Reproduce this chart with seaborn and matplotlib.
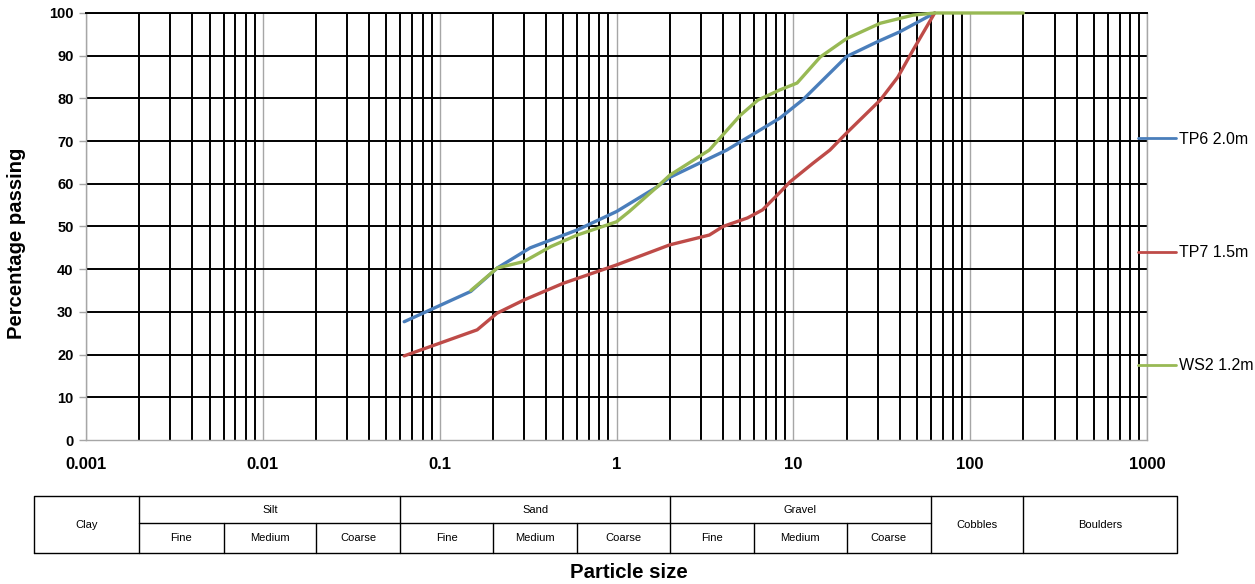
import pandas as pd
import seaborn as sns
import matplotlib.pyplot as plt
from matplotlib.ticker import NullFormatter

# particle size distribution (mm, % passing)
tp6_size = [0.063, 0.15, 0.212, 0.325, 0.6, 1.0, 1.7, 2.0, 4.2, 8.4, 11.4, 20, 30, 40, 63]
tp6_pct = [27.7, 34.8, 40.3, 45.0, 49.2, 53.5, 59.3, 61.5, 67.9, 75.4, 79.8, 89.8, 93.3, 95.6, 100]

tp7_size = [0.063, 0.163, 0.211, 0.3, 0.5, 1.0, 2.0, 3.35, 4.0, 5.5, 6.7, 8.4, 9.6, 12.9, 16.1,
            20, 31, 39, 47.5, 63]
tp7_pct = [19.7, 25.8, 29.7, 32.8, 36.7, 41.0, 45.7, 48.0, 50.0, 52.0, 53.9, 58.0, 60.5, 64.8, 67.9,
           71.9, 79.6, 85.0, 91.3, 100]

ws2_size = [0.15, 0.212, 0.3, 0.425, 0.6, 1.0, 1.18, 1.7, 2.0, 3.35, 5, 6.3, 8.4, 10.5, 14.2,
            20, 31, 47.5, 63, 200]
ws2_pct = [35.0, 40.3, 41.8, 45.3, 48.0, 51.1, 53.5, 59.3, 62.0, 67.9, 76.0, 79.6, 82.0, 83.6, 89.7,
           94.0, 97.6, 99.5, 100, 100]

samples = ['TP6 2.0m', 'TP7 1.5m', 'WS2 1.2m']
colors = ['#4a7ebb', '#be4b48', '#98b954']

x_ticks = [0.001, 0.01, 0.1, 1, 10, 100, 1000]
x_labels = ['0.001', '0.01', '0.1', '1', '10', '100', '1000']
y_ticks = list(range(0, 101, 10))

# soil classification table below the axis
main_edges = [0.000508, 0.002, 0.06, 2, 60, 200, 1479]
main_names = ['Clay', 'Silt', 'Sand', 'Gravel', 'Cobbles', 'Boulders']
split_groups = ['Silt', 'Sand', 'Gravel']
sub_names = ['Fine', 'Medium', 'Coarse']
sub_edges = [0.002, 0.006, 0.02, 0.06, 0.2, 0.6, 2, 6, 20, 60]

df = pd.concat([
    pd.DataFrame({'size': tp6_size, 'pct': tp6_pct, 'sample': samples[0]}),
    pd.DataFrame({'size': tp7_size, 'pct': tp7_pct, 'sample': samples[1]}),
    pd.DataFrame({'size': ws2_size, 'pct': ws2_pct, 'sample': samples[2]}),
])

sns.set_style('white')
plt.rcParams['font.family'] = ['Liberation Sans', 'DejaVu Sans']
plt.rcParams['text.color'] = 'black'
plt.rcParams['axes.labelcolor'] = 'black'
plt.rcParams['xtick.labelcolor'] = 'black'
plt.rcParams['ytick.labelcolor'] = 'black'

W, H = 1255, 584
fig = plt.figure(figsize=(W / 100, H / 100), dpi=100)
ax = fig.add_axes([86 / W, 1 - 440 / H, 1061 / W, 427 / H])

sns.lineplot(data=df, x='size', y='pct', hue='sample', hue_order=samples,
             palette=colors, sort=False, estimator=None, linewidth=2.4, ax=ax)
for ln in ax.lines:
    ln.set_clip_on(False)
    ln.set_zorder(5)

ax.set_xscale('log')
ax.set_xlim(0.001, 1000)
ax.set_ylim(0, 100)
minor = [m * 10.0 ** k for k in range(-3, 3) for m in range(2, 10)]
ax.set_xticks(x_ticks)
ax.set_xticklabels(x_labels)
ax.set_xticks(minor, minor=True)
ax.xaxis.set_minor_formatter(NullFormatter())
ax.set_yticks(y_ticks)

ax.grid(which='minor', axis='x', color='black', lw=1.4)
ax.grid(which='major', axis='x', color='#a6a6a6', lw=1.0)
for y in y_ticks[1:]:
    ax.axhline(y, color='black', lw=1.4, zorder=1)

ax.tick_params(axis='x', which='minor', length=0)
ax.tick_params(axis='x', which='major', length=5, width=1, color='#a6a6a6', pad=7,
               labelsize=12, labelcolor='black')
ax.tick_params(axis='y', length=5, width=1, color='#a6a6a6', pad=4, labelsize=10.5,
               left=True, labelcolor='black')
for t in ax.get_xticklabels() + ax.get_yticklabels():
    t.set_fontweight('bold')
for s in ['left', 'bottom', 'right']:
    ax.spines[s].set_color('#a6a6a6')
    ax.spines[s].set_linewidth(1)
ax.spines['top'].set_color('black')
ax.spines['top'].set_linewidth(1.4)

ax.set_xlabel('')
ax.set_ylabel('Percentage passing', fontsize=14.6, fontweight='bold', color='black')
ax.yaxis.set_label_coords(-0.0565, 0.46)

sns.move_legend(ax, 'center left', bbox_to_anchor=(0.9915, 0.4386), frameon=False, title='',
                fontsize=11.5, labelspacing=6.15, handlelength=2.4, handletextpad=0.15,
                borderpad=0, borderaxespad=0)
for ln in ax.get_legend().get_lines():
    ln.set_linewidth(2.0)

# classification table
tax = fig.add_axes([86 / W, 1 - 553 / H, 1061 / W, 57 / H])
tax.set_xscale('log')
tax.set_xlim(0.001, 1000)
tax.set_ylim(0, 1)
tax.axis('off')
mid = 0.526
kw = dict(color='black', lw=1.0, clip_on=False)
x0, x1 = main_edges[0], main_edges[-1]
tax.plot([x0, x1, x1, x0, x0], [0, 0, 1, 1, 0], **kw)
for e in main_edges[1:-1]:
    tax.plot([e, e], [0, 1], **kw)
tax.plot([sub_edges[0], sub_edges[-1]], [mid, mid], **kw)
for e in sub_edges[1:-1]:
    if e not in main_edges:
        tax.plot([e, e], [0, mid], **kw)

for i, name in enumerate(main_names):
    xc = (main_edges[i] * main_edges[i + 1]) ** 0.5
    yc = (1 + mid) / 2 if name in split_groups else 0.5
    tax.text(xc, yc, name, ha='center', va='center', fontsize=8)
for i in range(len(sub_edges) - 1):
    xc = (sub_edges[i] * sub_edges[i + 1]) ** 0.5
    tax.text(xc, mid / 2, sub_names[i % 3], ha='center', va='center', fontsize=8)

fig.text(629 / W, 1 - 572 / H, 'Particle size', ha='center', va='center',
         fontsize=14.7, fontweight='bold')

fig.savefig('out.png', dpi=100)
